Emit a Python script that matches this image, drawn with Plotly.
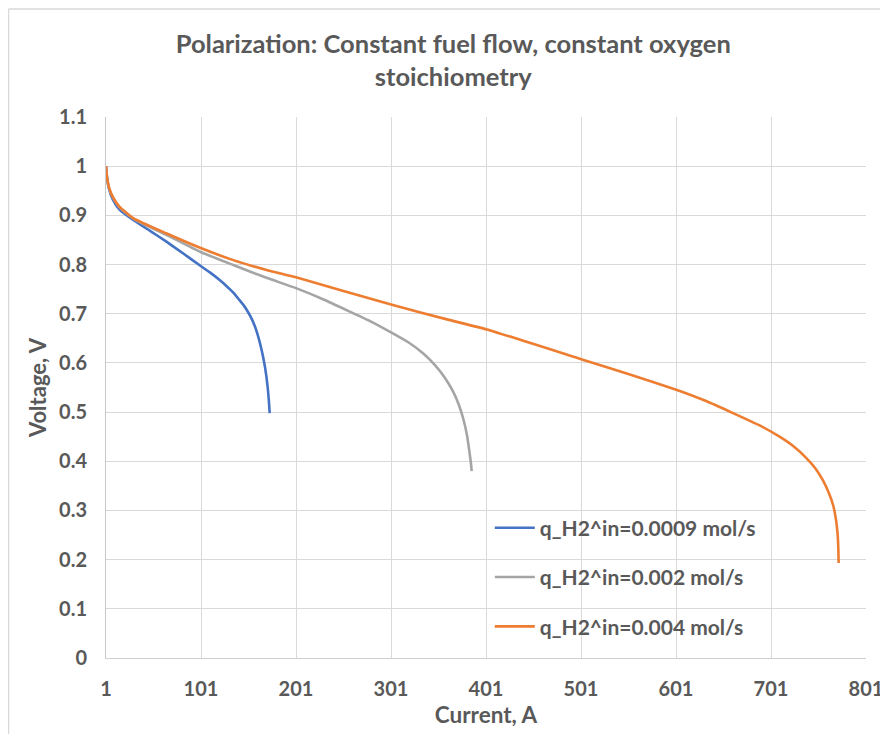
import plotly.graph_objects as go

# Data
blue_I = [1, 2, 4, 8, 15, 30, 47, 65, 82, 100, 110, 120, 128, 135, 141, 146, 150, 154, 158, 161, 164, 166.5, 168.5, 170, 171.3, 172.3, 173, 173.3]
blue_V = [1.0, 0.978, 0.955, 0.933, 0.912, 0.89, 0.869, 0.846, 0.823, 0.798, 0.7845, 0.7695, 0.756, 0.743, 0.729, 0.717, 0.705, 0.691, 0.673, 0.655, 0.633, 0.611, 0.590, 0.570, 0.548, 0.526, 0.507, 0.498]

gray_I = [1, 2, 4, 8, 15, 30, 65, 100, 135, 170, 201, 230, 258, 280, 302, 320, 335, 348, 358, 366, 372, 377, 381, 383.5, 385.2, 385.9]
gray_V = [1.0, 0.978, 0.957, 0.937, 0.917, 0.893, 0.86, 0.826, 0.799, 0.773, 0.752, 0.729, 0.704, 0.684, 0.661, 0.641, 0.619, 0.594, 0.569, 0.543, 0.517, 0.487, 0.453, 0.420, 0.395, 0.380]

orange_I = [1, 2, 4, 8, 15, 30, 65, 100, 135, 170, 201, 302, 363, 402, 502, 550, 602, 632, 661, 690, 710, 725, 738, 748, 756, 762, 766.5, 769.5, 771.2, 771.9, 772.2]
orange_V = [1.0, 0.979, 0.958, 0.938, 0.918, 0.894, 0.863, 0.834, 0.809, 0.789, 0.774, 0.718, 0.687, 0.668, 0.607, 0.578, 0.545, 0.523, 0.498, 0.472, 0.450, 0.430, 0.407, 0.385, 0.360, 0.335, 0.310, 0.280, 0.250, 0.220, 0.193]

series_names = ["q_H2^in=0.0009 mol/s", "q_H2^in=0.002 mol/s", "q_H2^in=0.004 mol/s"]
series_colors = ["#4472C4", "#A5A5A5", "#ED7D31"]

x_ticks = [1, 101, 201, 301, 401, 501, 601, 701, 801]
y_ticks = [0, 0.1, 0.2, 0.3, 0.4, 0.5, 0.6, 0.7, 0.8, 0.9, 1, 1.1]

FONT = "Lato"
TXT = "#595959"

fig = go.Figure()
for i, (xs, ys) in enumerate([(blue_I, blue_V), (gray_I, gray_V), (orange_I, orange_V)]):
    fig.add_trace(go.Scatter(
        x=xs, y=ys, mode="lines", name=series_names[i],
        line=dict(color=series_colors[i], width=2.6, shape="spline", smoothing=0.45),
        legendgroup=str(i),
    ))

W, H = 880, 726
L, R, T, B = 98, 22, 109, 76

fig.update_layout(
    width=W, height=H,
    margin=dict(l=L, r=R, t=T, b=B, autoexpand=False),
    paper_bgcolor="white", plot_bgcolor="white",
    font=dict(family=FONT, color=TXT),
    title=dict(
        text="<b>Polarization: Constant fuel flow, constant oxygen<br>stoichiometry</b>",
        x=0.506, xanchor="center", y=0.9385, yanchor="top",
        font=dict(size=25.5, color=TXT, family=FONT),
    ),
    xaxis=dict(
        range=[1, 801], tickvals=x_ticks, ticktext=[f"<b>{v}</b>" for v in x_ticks],
        showgrid=True, gridcolor="#D9D9D9", gridwidth=1,
        showline=True, linecolor="#D0D0D0", linewidth=1,
        zeroline=False, ticks="", tickfont=dict(size=20, color=TXT),
        ticklabelstandoff=13,
        title=dict(text="<b>Current, A</b>", font=dict(size=22.5, color=TXT), standoff=8),
    ),
    yaxis=dict(
        range=[0, 1.1], tickvals=y_ticks,
        ticktext=["<b>%g</b>" % v for v in y_ticks],
        showgrid=True, gridcolor="#D9D9D9", gridwidth=1,
        showline=True, linecolor="#C8C8C8", linewidth=1,
        zeroline=False, ticks="", tickfont=dict(size=20, color=TXT),
        ticklabelstandoff=14,
        title=dict(text="<b>Voltage, V</b>", font=dict(size=22, color=TXT), standoff=6),
    ),
    legend=dict(
        x=0.505, y=0.278, xanchor="left", yanchor="top",
        bgcolor="rgba(0,0,0,0)", font=dict(size=21, color=TXT, family=FONT, weight="bold"),
        tracegroupgap=19, itemwidth=40,
    ),
    showlegend=True,
)

# chart-area border (top and left edges visible)
plot_h = H - T - B
yb = (plot_h + T - 1) / plot_h
xl = (0.5 - L) / 760
fig.add_shape(type="line", xref="paper", yref="paper",
              x0=xl, x1=1.2, y0=yb, y1=yb, line=dict(color="#D9D9D9", width=1.5))
fig.add_shape(type="line", xref="paper", yref="paper",
              x0=xl, x1=xl, y0=yb, y1=-0.2, line=dict(color="#D9D9D9", width=1.5))

fig.write_html("out.html")
